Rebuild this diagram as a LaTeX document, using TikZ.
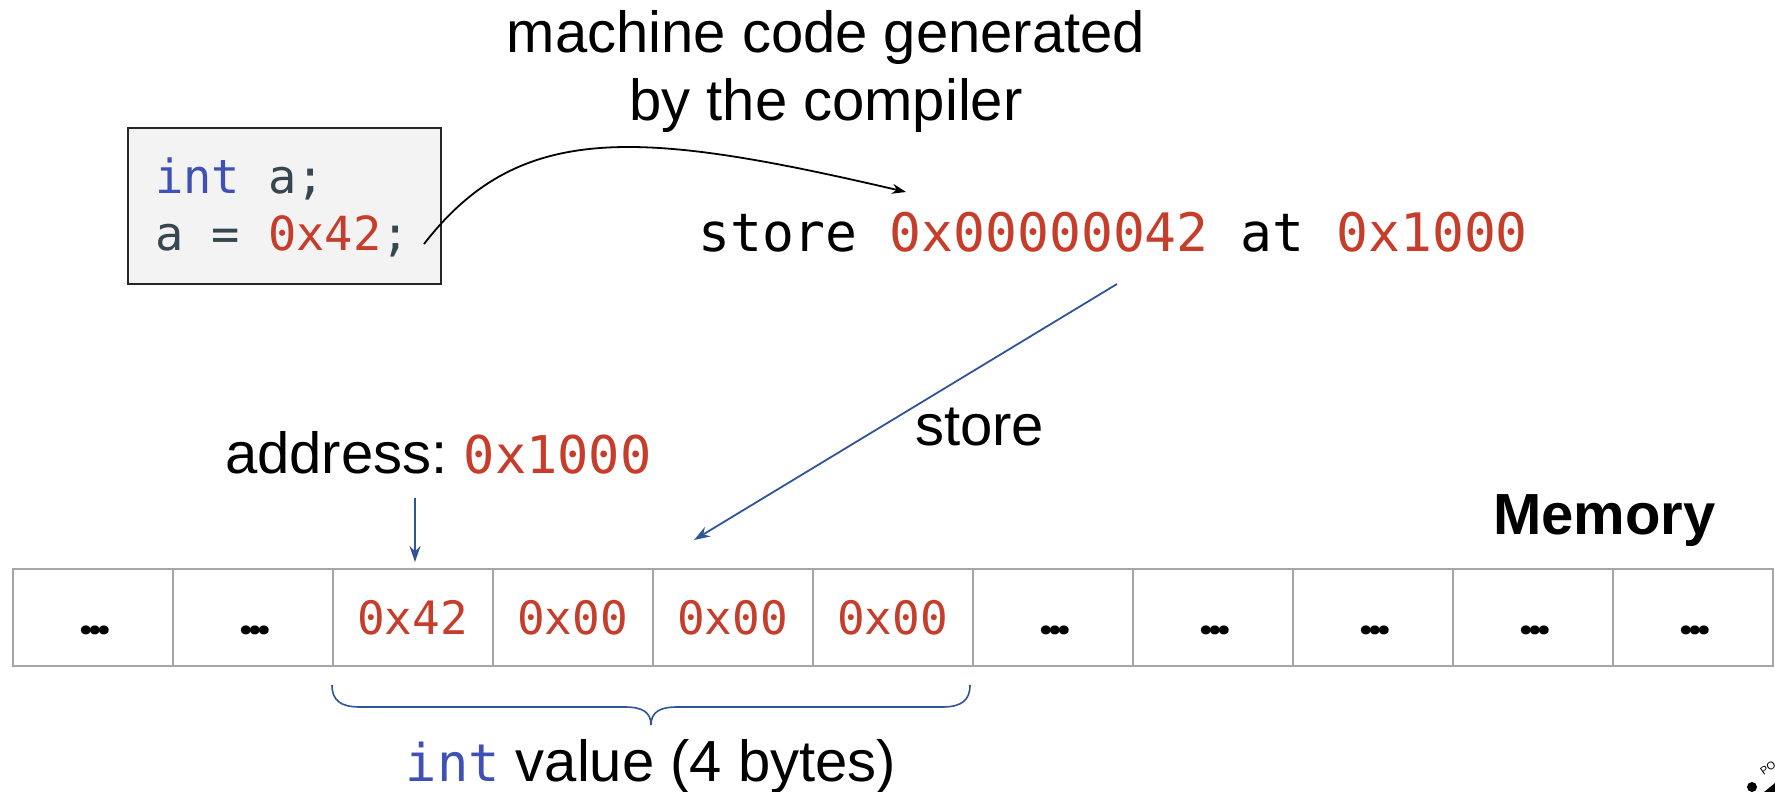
\documentclass[tikz,border=0pt]{standalone}
\usepackage{fontspec}
\setmainfont{Liberation Sans}
\newfontfamily\monof{DejaVu Sans Mono}
\newfontfamily\dotf{Poppins}
\usetikzlibrary{arrows.meta}
\definecolor{codered}{HTML}{C63D2B}
\definecolor{intblue}{HTML}{3F51B5}
\definecolor{codegray}{HTML}{37474F}
\definecolor{arrowblue}{HTML}{2F5597}
\definecolor{cellgray}{HTML}{A6A6A6}
\definecolor{boxfill}{HTML}{F3F3F3}
\newcommand\fsz[1]{\fontsize{#1}{#1}\selectfont}
\newcommand\onedot{\makebox[9pt][c]{.}}
\newcommand\mdots{{\dotf\bfseries\fsz{48}\color{black}\hspace*{6pt}\onedot\onedot\onedot}}
\begin{document}
\begin{tikzpicture}[x=1pt,y=-1pt,
  sanstext/.style={inner sep=0pt, font=\fsz{58}},
  monotext/.style={inner sep=0pt, font=\monof\fsz{53}},
  codebox/.style={draw=black!85, line width=2pt, fill=boxfill, minimum width=313pt, minimum height=156pt, inner sep=0pt},
  cell/.style={draw=cellgray, line width=2pt, minimum width=160pt, minimum height=97pt, inner sep=0pt, text height=40pt, text depth=7pt, font=\monof\fsz{46}, text=codered},
  blackarrow/.style={line width=1.8pt, -{Stealth[length=14pt,width=10pt]}},
  bluearrow/.style={draw=arrowblue, line width=1.8pt, -{Stealth[length=16pt,width=11pt]}},
  brace/.style={draw=arrowblue, line width=1.6pt}
]
\useasboundingbox (0,0) rectangle (1775,792);

% title
\node[sanstext, anchor=base] (t1) at (826,53) {machine code generated};
\node[sanstext, anchor=base] (t2) at (826,121) {by the compiler};

% code box
\node[codebox] (box) at (284.5,206) {};
\node[anchor=base west, inner sep=0pt, font=\monof\fsz{47}] (l1) at (155,193) {\textcolor{intblue}{int} \textcolor{codegray}{a;}};
\node[anchor=base west, inner sep=0pt, font=\monof\fsz{47}] (l2) at (155,250) {\textcolor{codegray}{a = }\textcolor{codered}{0x42}\textcolor{codegray}{;}};

% store line
\node[monotext, anchor=base west] (st) at (698,251) {store \textcolor{codered}{0x00000042} at \textcolor{codered}{0x1000}};

\coordinate (s0) at (424,244);
\coordinate (s1) at (906,192);
\draw[blackarrow] (s0) .. controls (520,120) and (640,130) .. (s1);

% store arrow
\coordinate (b0) at (1117,284);
\coordinate (b1) at (694,540);
\draw[bluearrow] (b0) -- (b1);
\node[sanstext, anchor=base west] (storelbl) at (915,445) {store};

% address
\node[anchor=base west, inner sep=0pt] (addr) at (225,473) {\fsz{58}address:\ {\monof\fsz{52}\textcolor{codered}{0x1000}}};
\coordinate (a0) at (415,498);
\coordinate (a1) at (415,562);
\draw[bluearrow] (a0) -- (a1);

% Memory
\node[anchor=base east, inner sep=0pt, font=\bfseries\fsz{58}] (mem) at (1716,534) {Memory};

% cells
\node[cell] (c0) at (92.5,617.5) {\mdots};
\node[cell] (c1) at (252.5,617.5) {\mdots};
\node[cell] (c2) at (412.5,617.5) {0x42};
\node[cell] (c3) at (572.5,617.5) {0x00};
\node[cell] (c4) at (732.5,617.5) {0x00};
\node[cell] (c5) at (892.5,617.5) {0x00};
\node[cell] (c6) at (1052.5,617.5) {\mdots};
\node[cell] (c7) at (1212.5,617.5) {\mdots};
\node[cell] (c8) at (1372.5,617.5) {\mdots};
\node[cell] (c9) at (1532.5,617.5) {\mdots};
\node[cell] (c10) at (1692.5,617.5) {\mdots};

% brace
\draw[brace] (332,685) .. controls (332,700) and (340,707) .. (360,707) -- (625,707)
  .. controls (642,707) and (651,712) .. (651,725)
  .. controls (651,712) and (660,707) .. (677,707) -- (942,707)
  .. controls (962,707) and (970,700) .. (970,685);

\node[anchor=base, inner sep=0pt] (intval) at (651,781) {\fsz{58}{\monof\fsz{52}\textcolor{intblue}{int}}\ value (4 bytes)};

% logo fragment
\fill (1752,787) circle (5pt);
\node[rotate=35, inner sep=0pt, font=\fsz{11}] (logo) at (1768,768) {PO};
\fill (1764,792) -- (1775,783) -- (1775,792) -- cycle;
\end{tikzpicture}
\end{document}
